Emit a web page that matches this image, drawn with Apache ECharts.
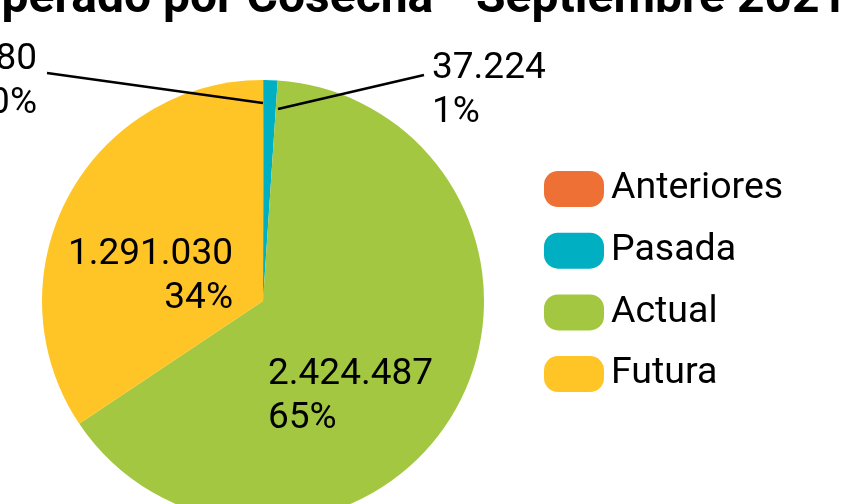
<!DOCTYPE html>
<html>
<head>
<meta charset="utf-8">
<script src="https://cdn.jsdelivr.net/npm/echarts@6/dist/echarts.min.js"></script>
<style>
html,body{margin:0;padding:0;background:#fff;}
#c{width:858px;height:504px;}
</style>
</head>
<body>
<div id="c"></div>
<script>
// ---- data ----
const categories = ['Anteriores', 'Pasada', 'Actual', 'Futura'];
const values = [2480, 37224, 2424487, 1291030];
const colors = ['#EE7034', '#00AFC1', '#A3C741', '#FFC426'];
const titleText = 'Recuperado por Cosecha - Septiembre 2021';

// ---- layout / style ----
const CX = 263, CY = 301, R = 221;
const labelPlace = [
  { x: 37, y: 82, align: 'right', line: true, sx: 263, sy: 103, lx: 47, ly: 73 },
  { x: 432, y: 91, align: 'left', line: true, sx: 278, sy: 109, lx: 424, ly: 75 },
  { x: 268, y: 397, align: 'left', line: false },
  { x: 233, y: 277, align: 'right', line: false }
];

function fmt(v) {
  return String(v).replace(/\B(?=(\d{3})+(?!\d))/g, '.');
}

const chart = echarts.init(document.getElementById('c'));
const option = {
  backgroundColor: '#fff',
  animation: false,
  title: {
    text: titleText,
    left: -107,
    top: -24,
    padding: 0,
    textStyle: { fontFamily: 'Roboto', fontWeight: 'bold', fontSize: 48, color: '#000' }
  },
  legend: {
    orient: 'vertical',
    left: 544,
    top: 170,
    padding: 0,
    itemWidth: 60,
    itemHeight: 36,
    itemGap: 23.7,
    icon: 'path://M14,0 H46 A14,14 0 0 1 60,14 V22 A14,14 0 0 1 46,36 H14 A14,14 0 0 1 0,22 V14 A14,14 0 0 1 14,0 Z',
    textStyle: { fontFamily: 'Roboto', fontSize: 37.5, color: '#000', padding: [0, 0, 0, 2] },
    data: categories.map(function (n, i) { return { name: n, itemStyle: { color: colors[i] } }; })
  },
  series: [{
    type: 'pie',
    name: 'sectors',
    center: [CX, CY],
    radius: R,
    startAngle: 90,
    clockwise: true,
    z: 2,
    itemStyle: { borderWidth: 0 },
    emphasis: { disabled: true },
    label: { show: false },
    labelLine: { show: false },
    data: categories.map(function (name, i) {
      return { name: name, value: values[i], itemStyle: { color: colors[i] } };
    })
  }, {
    type: 'pie',
    name: 'labels',
    center: [CX, CY],
    radius: R,
    startAngle: 90,
    clockwise: true,
    z: 5,
    silent: true,
    percentPrecision: 0,
    avoidLabelOverlap: false,
    itemStyle: { color: 'rgba(0,0,0,0)', borderWidth: 0 },
    emphasis: { disabled: true },
    label: {
      show: true,
      position: 'outside',
      fontFamily: 'Roboto',
      fontSize: 37,
      lineHeight: 44,
      color: '#000',
      formatter: function (p) { return fmt(p.value) + '\n' + Math.round(p.percent) + '%'; }
    },
    labelLine: { show: true, lineStyle: { color: '#000', width: 2.5 } },
    labelLayout: function (params) {
      const p = labelPlace[params.dataIndex];
      const res = { x: p.x, y: p.y, align: p.align, verticalAlign: 'middle' };
      if (p.line) {
        res.labelLinePoints = [[p.sx, p.sy], [(p.sx + p.lx) / 2, (p.sy + p.ly) / 2], [p.lx, p.ly]];
      }
      return res;
    },
    data: categories.map(function (name, i) {
      const d = { name: name, value: values[i] };
      if (!labelPlace[i].line) d.labelLine = { show: false };
      return d;
    })
  }]
};
chart.setOption(option);
</script>
</body>
</html>
